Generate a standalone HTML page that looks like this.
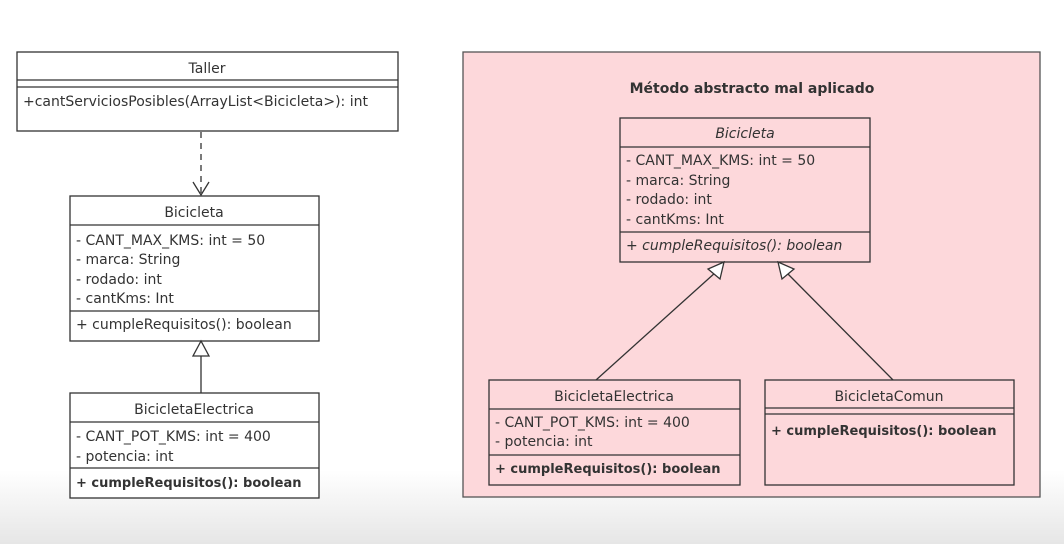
<!DOCTYPE html>
<html><head><meta charset="utf-8"><style>
html,body{margin:0;padding:0;width:1064px;height:544px;overflow:hidden;}
body{background:linear-gradient(#fff 0,#fff 470px,#e6e6e6 544px);}
svg text{font-family:"DejaVu Sans","Liberation Sans",sans-serif;font-size:14px;fill:#333;}
svg text.b{font-weight:bold;font-size:13px;}
</style></head><body>
<svg width="1064" height="544" xmlns="http://www.w3.org/2000/svg">
<g stroke="#333" stroke-width="1.3" fill="#fff">
<rect x="17" y="52" width="381" height="79"/>
<line x1="17" y1="80" x2="398" y2="80"/>
<line x1="17" y1="87" x2="398" y2="87"/>
<line x1="201" y1="132" x2="201" y2="194" stroke-dasharray="6,5"/>
<polyline points="193,182 201,195 209,182" fill="none"/>
<rect x="70" y="196" width="249" height="145"/>
<line x1="70" y1="225" x2="319" y2="225"/>
<line x1="70" y1="311" x2="319" y2="311"/>
<line x1="201" y1="356" x2="201" y2="393"/>
<polygon points="201,341 193,356 209,356"/>
<rect x="70" y="393" width="249" height="105"/>
<line x1="70" y1="422" x2="319" y2="422"/>
<line x1="70" y1="468" x2="319" y2="468"/>
<rect x="463" y="52" width="577" height="445" fill="#fdd8db" stroke="#555"/>
<rect x="620" y="118" width="250" height="144" fill="#fdd8db"/>
<line x1="620" y1="147" x2="870" y2="147"/>
<line x1="620" y1="232" x2="870" y2="232"/>
<rect x="489" y="380" width="251" height="105" fill="#fdd8db"/>
<line x1="489" y1="409" x2="740" y2="409"/>
<line x1="489" y1="455" x2="740" y2="455"/>
<rect x="765" y="380" width="249" height="105" fill="#fdd8db"/>
<line x1="765" y1="408" x2="1014" y2="408"/>
<line x1="765" y1="414" x2="1014" y2="414"/>
<line x1="596" y1="380" x2="716" y2="272"/>
<line x1="893" y1="380" x2="786" y2="272"/>
<polygon points="724,262 708,269 720,279"/>
<polygon points="778,262 794,269 782,279"/>
</g>
<text x="207" y="73" text-anchor="middle">Taller</text>
<text x="23" y="106">+cantServiciosPosibles(ArrayList&lt;Bicicleta&gt;): int</text>
<text x="194" y="217" text-anchor="middle">Bicicleta</text>
<text x="76" y="245">- CANT_MAX_KMS: int = 50</text>
<text x="76" y="264">- marca: String</text>
<text x="76" y="284">- rodado: int</text>
<text x="76" y="303">- cantKms: Int</text>
<text x="76" y="329">+ cumpleRequisitos(): boolean</text>
<text x="194" y="414" text-anchor="middle">BicicletaElectrica</text>
<text x="76" y="441">- CANT_POT_KMS: int = 400</text>
<text x="76" y="461">- potencia: int</text>
<text x="76" y="487" class="b">+ cumpleRequisitos(): boolean</text>
<text x="752" y="93" text-anchor="middle" font-weight="bold">Método abstracto mal aplicado</text>
<text x="745" y="138" text-anchor="middle" font-style="italic">Bicicleta</text>
<text x="626" y="165">- CANT_MAX_KMS: int = 50</text>
<text x="626" y="185">- marca: String</text>
<text x="626" y="204">- rodado: int</text>
<text x="626" y="224">- cantKms: Int</text>
<text x="626" y="250" font-style="italic">+ cumpleRequisitos(): boolean</text>
<text x="614" y="401" text-anchor="middle">BicicletaElectrica</text>
<text x="495" y="427">- CANT_POT_KMS: int = 400</text>
<text x="495" y="446">- potencia: int</text>
<text x="495" y="473" class="b">+ cumpleRequisitos(): boolean</text>
<text x="889" y="401" text-anchor="middle">BicicletaComun</text>
<text x="771" y="435" class="b">+ cumpleRequisitos(): boolean</text>
</svg>
</body></html>
